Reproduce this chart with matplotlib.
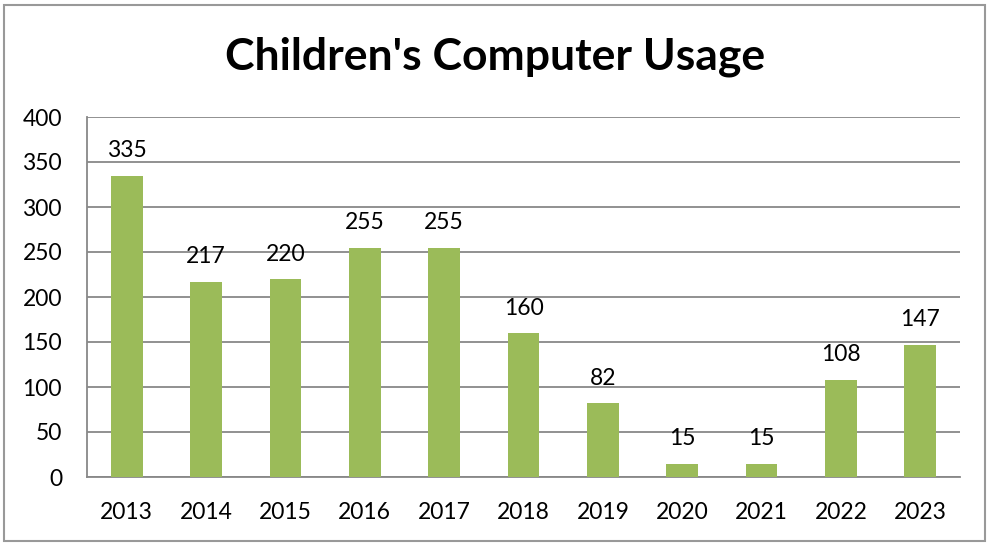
import matplotlib.pyplot as plt
from matplotlib.patches import Rectangle

years = ["2013", "2014", "2015", "2016", "2017", "2018", "2019", "2020", "2021", "2022", "2023"]
usage = [335, 217, 220, 255, 255, 160, 82, 15, 15, 108, 147]
yticks = [0, 50, 100, 150, 200, 250, 300, 350, 400]

plt.rcParams['font.family'] = ['Lato', 'DejaVu Sans']

fig = plt.figure(figsize=(9.9, 5.44), dpi=100)
ax = fig.add_axes([87/990, 1 - 477/544, (960 - 87)/990, (477 - 117)/544])

x = range(len(years))
ax.bar(x, usage, width=0.4, color="#9BBB59", zorder=3)
for i, v in enumerate(usage):
    ax.text(i, v + 16, str(v), ha="center", va="bottom", fontsize=16.5, color="black")

ax.set_xlim(-0.5, len(years) - 0.5)
ax.set_ylim(0, 400)
ax.set_yticks(yticks)
ax.set_xticks(list(x))
ax.set_xticklabels(years)
ax.yaxis.grid(True, color="#888888", linewidth=1.3, zorder=0)
ax.tick_params(axis="both", length=0, labelsize=16.5, colors="black")
ax.tick_params(axis="x", pad=18)
ax.tick_params(axis="y", pad=18)
for s in ["top", "right"]:
    ax.spines[s].set_visible(False)
for s in ["left", "bottom"]:
    ax.spines[s].set_color("#888888")
    ax.spines[s].set_linewidth(1.3)

fig.text(0.5, 1 - 57/544, "Children's Computer Usage", ha="center", va="center",
         fontsize=32, fontweight="bold")

# outer chart border
fig.patches.append(Rectangle((4/990, 3/544), 981/990, 536/544, transform=fig.transFigure,
                             fill=False, edgecolor="#999999", linewidth=1.5))

plt.savefig("out.png", dpi=100)
